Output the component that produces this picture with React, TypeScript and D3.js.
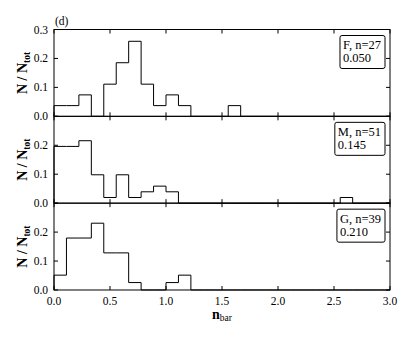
import React, { useEffect, useRef } from 'react';
import * as d3 from 'd3';

// bin edges are k/9, 0..3
const binWidth = 1 / 9;
const nBins = 27;

// counts per bin (index = bin number)
const countsF = [1, 1, 2, 0, 3, 5, 7, 3, 1, 2, 1, 0, 0, 0, 1];
const countsM = [10, 10, 11, 5, 1, 5, 1, 2, 3, 2, 0, 0, 0, 0, 0, 0, 0, 0, 0, 0, 0, 0, 0, 1];
const countsG = [2, 7, 7, 9, 5, 5, 1, 0, 0, 1, 2];

const panelNames = ['F', 'M', 'G'];
const panelN = [27, 51, 39];
const panelStat = ['0.050', '0.145', '0.210'];

const xTicks = [0, 0.5, 1.0, 1.5, 2.0, 2.5, 3.0];
const yTicks = [0, 0.1, 0.2, 0.3];

function App() {
  const ref = useRef<SVGSVGElement>(null);

  useEffect(() => {
    const svg = d3.select(ref.current);
    svg.selectAll('*').remove();

    const left = 54, right = 390, top = 29.5, panelH = 86.83;
    const font = "'Liberation Serif', 'DejaVu Serif', serif";

    const x = d3.scaleLinear().domain([0, 3]).range([left, right]);
    const allCounts = [countsF, countsM, countsG];

    allCounts.forEach((counts, p) => {
      const y0 = top + p * panelH;
      const y = d3.scaleLinear().domain([0, 0.3]).range([y0 + panelH, y0]);
      const g = svg.append('g');

      // step histogram
      const pts: [number, number][] = [[0, 0]];
      for (let i = 0; i < nBins; i++) {
        const v = (counts[i] || 0) / panelN[p];
        pts.push([i * binWidth, v]);
        pts.push([(i + 1) * binWidth, v]);
      }
      pts.push([3, 0]);
      const line = d3.line<[number, number]>()
        .x(d => x(d[0]))
        .y(d => y(d[1]));
      g.append('path')
        .attr('d', line(pts))
        .attr('fill', 'none')
        .attr('stroke', '#000')
        .attr('stroke-width', 1);

      // ticks inward on all four sides
      const tl = 4;
      xTicks.forEach(t => {
        g.append('line').attr('x1', x(t)).attr('x2', x(t))
          .attr('y1', y(0)).attr('y2', y(0) - tl).attr('stroke', '#000');
        g.append('line').attr('x1', x(t)).attr('x2', x(t))
          .attr('y1', y(0.3)).attr('y2', y(0.3) + tl).attr('stroke', '#000');
      });
      yTicks.forEach(t => {
        g.append('line').attr('x1', left).attr('x2', left + tl)
          .attr('y1', y(t)).attr('y2', y(t)).attr('stroke', '#000');
        g.append('line').attr('x1', right).attr('x2', right - tl)
          .attr('y1', y(t)).attr('y2', y(t)).attr('stroke', '#000');
        if (t < 0.25 || p === 0) {
          g.append('text')
            .attr('x', left - 6).attr('y', y(t)).attr('dy', '0.35em')
            .attr('text-anchor', 'end')
            .style('font-family', font).attr('font-size', 11.5)
            .text(t.toFixed(1));
        }
      });

      // frame
      g.append('rect')
        .attr('x', left).attr('y', y0)
        .attr('width', right - left).attr('height', panelH)
        .attr('fill', 'none').attr('stroke', '#000').attr('stroke-width', 1);

      // y label
      const yl = g.append('text')
        .attr('transform', 'translate(27,' + (y0 + panelH / 2) + ') rotate(-90)')
        .attr('text-anchor', 'middle')
        .style('font-family', font).attr('font-size', 14).attr('font-weight', 'bold');
      yl.append('tspan').text('N / N');
      yl.append('tspan').attr('font-size', 9.5).attr('dy', 3).text('tot');

      // legend box
      const lg = g.append('g');
      const l1 = lg.append('text').style('font-family', font).attr('font-size', 12.5)
        .text(panelNames[p] + ', n=' + panelN[p]);
      const l2 = lg.append('text').style('font-family', font).attr('font-size', 12.5)
        .text(panelStat[p]);
      const w = Math.max((l1.node() as SVGTextElement).getComputedTextLength(),
        (l2.node() as SVGTextElement).getComputedTextLength());
      const bw = w + 7;
      const bx = right - 5 - bw;
      const by = y0 + 6;
      lg.insert('rect', 'text')
        .attr('x', bx).attr('y', by).attr('width', bw).attr('height', 33)
        .attr('rx', 2).attr('fill', '#fff').attr('stroke', '#000');
      l1.attr('x', bx + 3).attr('y', by + 13.5);
      l2.attr('x', bx + 3).attr('y', by + 26.5);

      if (p === 2) {
        xTicks.forEach(t => {
          g.append('text')
            .attr('x', x(t)).attr('y', y(0) + 15)
            .attr('text-anchor', 'middle')
            .style('font-family', font).attr('font-size', 11.5)
            .text(t.toFixed(1));
        });
        const xl = g.append('text')
          .attr('x', (left + right) / 2).attr('y', y(0) + 29)
          .attr('text-anchor', 'middle')
          .style('font-family', font).attr('font-size', 14);
        xl.append('tspan').attr('font-weight', 'bold').text('n');
        xl.append('tspan').attr('font-size', 9.5).attr('dy', 2.5).text('bar');
      }
    });

    svg.append('text')
      .attr('x', 55).attr('y', 25)
      .style('font-family', font).attr('font-size', 11.5)
      .text('(d)');
  }, []);

  return (
    <svg ref={ref} width={415} height={341}
      style={{ position: 'absolute', left: 0, top: 0, background: '#fff' }} />
  );
}

export default App;
